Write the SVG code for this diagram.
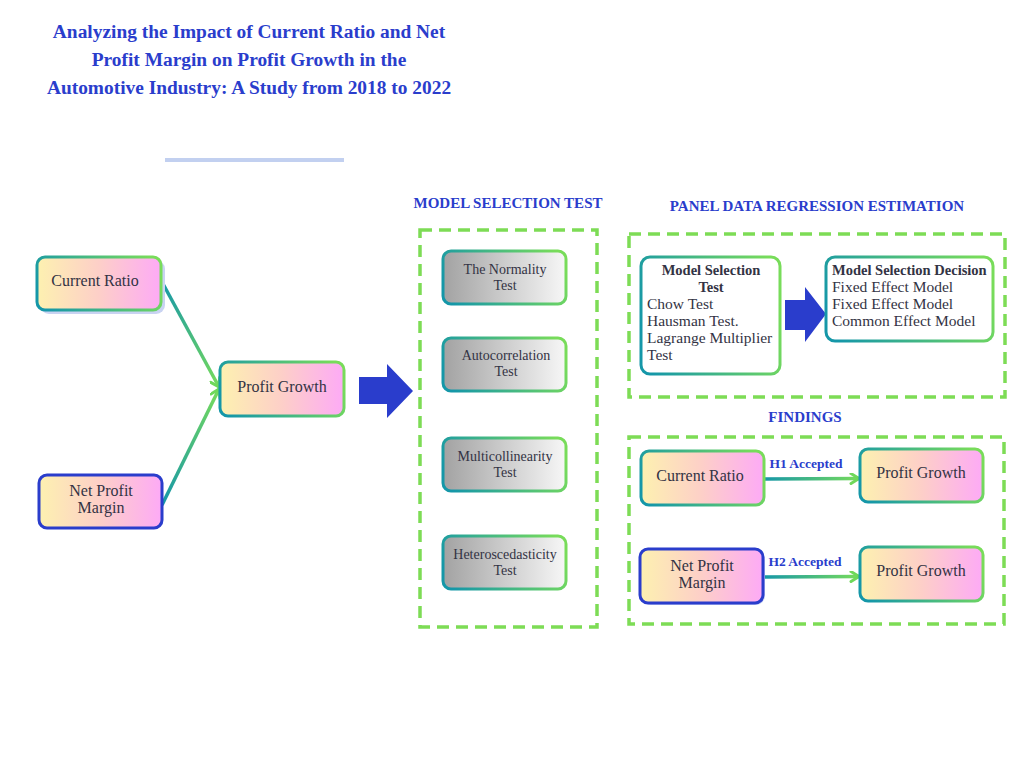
<svg xmlns="http://www.w3.org/2000/svg" width="1024" height="768" viewBox="0 0 1024 768">
<defs>
<linearGradient id="fillWarm" x1="0" y1="0" x2="1" y2="0">
<stop offset="0" stop-color="#fdf1b0"/><stop offset="0.5" stop-color="#fdcfc8"/><stop offset="1" stop-color="#fdaaf6"/>
</linearGradient>
<linearGradient id="fillGray" x1="0" y1="0" x2="1" y2="0">
<stop offset="0" stop-color="#a2a2a2"/><stop offset="1" stop-color="#f7f7f7"/>
</linearGradient>
<linearGradient id="strokeTG" x1="0" y1="0.6" x2="1" y2="0.4">
<stop offset="0" stop-color="#1597a8"/><stop offset="1" stop-color="#78dc5a"/>
</linearGradient>
<linearGradient id="c1" gradientUnits="userSpaceOnUse" x1="162" y1="282" x2="220" y2="388">
<stop offset="0" stop-color="#1597a8"/><stop offset="1" stop-color="#78dc5a"/>
</linearGradient>
<linearGradient id="c2" gradientUnits="userSpaceOnUse" x1="162" y1="505" x2="220" y2="388">
<stop offset="0" stop-color="#1597a8"/><stop offset="1" stop-color="#78dc5a"/>
</linearGradient>
<linearGradient id="c3" gradientUnits="userSpaceOnUse" x1="764" y1="0" x2="860" y2="0">
<stop offset="0" stop-color="#1597a8"/><stop offset="1" stop-color="#78dc5a"/>
</linearGradient>
<linearGradient id="c4" gradientUnits="userSpaceOnUse" x1="763" y1="0" x2="860" y2="0">
<stop offset="0" stop-color="#1597a8"/><stop offset="1" stop-color="#78dc5a"/>
</linearGradient>
<marker id="chev" markerWidth="12" markerHeight="12" viewBox="0 0 12 12" refX="10" refY="6" orient="auto" markerUnits="userSpaceOnUse">
<path d="M2,1 L10,6 L2,11" fill="none" stroke="#6fd85a" stroke-width="3" stroke-linecap="round" stroke-linejoin="round"/>
</marker>
<style>
.title{font-family:"Liberation Serif","Times New Roman",serif;font-weight:bold;font-size:19.4px;fill:#2a3dcc;text-anchor:middle}
.sec{font-family:"Liberation Serif","Times New Roman",serif;font-weight:bold;font-size:15px;fill:#2a3dcc;text-anchor:middle}
.lbl{font-family:"Liberation Serif","Times New Roman",serif;font-size:16px;fill:#333344;text-anchor:middle}
.sm{font-size:14px}
.lblL{font-family:"Liberation Serif","Times New Roman",serif;font-size:15.5px;fill:#333344}
.b{font-weight:bold;font-size:14.5px}
.hl{font-family:"Liberation Serif","Times New Roman",serif;font-weight:bold;font-size:13.5px;fill:#2a3dcc;text-anchor:middle}
.warm{fill:url(#fillWarm);stroke:url(#strokeTG);stroke-width:3}
.warmB{fill:url(#fillWarm);stroke:#2a3dcc;stroke-width:3}
.gray{fill:url(#fillGray);stroke:url(#strokeTG);stroke-width:3}
.white{fill:#ffffff;stroke:url(#strokeTG);stroke-width:3}
.dash{fill:none;stroke:#7ddc55;stroke-width:3.5;stroke-dasharray:12 7}
.shadow{fill:#c9d3f2}
.big{fill:#2a3dcc}
</style>
</defs>
<rect width="1024" height="768" fill="#ffffff"/>

<g id="title">
<text class="title" x="249" y="38">Analyzing the Impact of Current Ratio and Net</text>
<text class="title" x="249" y="66">Profit Margin on Profit Growth in the</text>
<text class="title" x="249" y="94">Automotive Industry: A Study from 2018 to 2022</text>
<rect x="165" y="158" width="179" height="4" fill="#c2d0f0"/>
</g>

<g id="sections">
<text class="sec" x="508" y="208">MODEL SELECTION TEST</text>
<rect class="dash" x="420" y="230" width="177" height="397"/>
<text class="sec" x="817" y="211">PANEL DATA REGRESSION ESTIMATION</text>
<rect class="dash" x="629" y="234" width="376" height="163"/>
<text class="sec" x="805" y="422">FINDINGS</text>
<rect class="dash" x="629" y="437" width="375" height="187"/>
</g>

<g id="connectors">
<line x1="162" y1="282" x2="219" y2="387" stroke="url(#c1)" stroke-width="3.5" marker-end="url(#chev)"/>
<line x1="162" y1="505" x2="219" y2="389" stroke="url(#c2)" stroke-width="3.5" marker-end="url(#chev)"/>
<path d="M764,479 L859,478.5" fill="none" stroke="url(#c3)" stroke-width="3.5" marker-end="url(#chev)"/>
<path d="M763,577 L859,576.5" fill="none" stroke="url(#c4)" stroke-width="3.5" marker-end="url(#chev)"/>
<text class="hl" x="806" y="468">H1 Accepted</text>
<text class="hl" x="805" y="566">H2 Accepted</text>
<polygon class="big" points="359,377 387,377 387,364 413,391 387,418 387,404 359,404"/>
<polygon class="big" points="785,300 805,300 805,287 826,314 805,342 805,330 785,330"/>
</g>

<g id="node-current-ratio">
<rect class="shadow" x="40" y="260" width="125" height="54" rx="9"/>
<rect class="warm" x="37" y="257" width="124" height="53" rx="8"/>
<text class="lbl" x="95" y="286">Current Ratio</text>
</g>
<g id="node-net-profit-margin">
<rect class="warmB" x="39" y="475" width="123" height="53" rx="8"/>
<text class="lbl" x="101" y="496">Net Profit</text>
<text class="lbl" x="101" y="513">Margin</text>
</g>
<g id="node-profit-growth">
<rect class="warm" x="220" y="362" width="124" height="54" rx="8"/>
<text class="lbl" x="282" y="392">Profit Growth</text>
</g>

<g id="node-normality">
<rect class="gray" x="443" y="251" width="123" height="53" rx="8"/>
<text class="lbl sm" x="505" y="274">The Normality</text>
<text class="lbl sm" x="505" y="290">Test</text>
</g>
<g id="node-autocorrelation">
<rect class="gray" x="443" y="338" width="123" height="53" rx="8"/>
<text class="lbl sm" x="506" y="360">Autocorrelation</text>
<text class="lbl sm" x="506" y="376">Test</text>
</g>
<g id="node-multicollinearity">
<rect class="gray" x="443" y="438" width="123" height="53" rx="8"/>
<text class="lbl sm" x="505" y="461">Multicollinearity</text>
<text class="lbl sm" x="505" y="477">Test</text>
</g>
<g id="node-heteroscedasticity">
<rect class="gray" x="443" y="536" width="123" height="53" rx="8"/>
<text class="lbl sm" x="505" y="559">Heteroscedasticity</text>
<text class="lbl sm" x="505" y="575">Test</text>
</g>

<g id="node-model-selection-test">
<rect class="white" x="641" y="257" width="139" height="117" rx="9"/>
<text class="lbl b" x="711" y="275">Model Selection</text>
<text class="lbl b" x="711" y="292">Test</text>
<text class="lblL" x="647" y="309">Chow Test</text>
<text class="lblL" x="647" y="326">Hausman Test.</text>
<text class="lblL" x="647" y="343">Lagrange Multiplier</text>
<text class="lblL" x="647" y="360">Test</text>
</g>
<g id="node-model-selection-decision">
<rect class="white" x="826" y="257" width="167" height="84" rx="9"/>
<text class="lblL b" x="832" y="275">Model Selection Decision</text>
<text class="lblL" x="832" y="292">Fixed Effect Model</text>
<text class="lblL" x="832" y="309">Fixed Effect Model</text>
<text class="lblL" x="832" y="326">Common Effect Model</text>
</g>

<g id="node-f-current-ratio">
<rect class="warm" x="641" y="451" width="123" height="54" rx="8"/>
<text class="lbl" x="700" y="481">Current Ratio</text>
</g>
<g id="node-f-profit-growth-1">
<rect class="warm" x="860" y="449" width="123" height="53" rx="8"/>
<text class="lbl" x="921" y="478">Profit Growth</text>
</g>
<g id="node-f-net-profit-margin">
<rect class="shadow" x="642" y="551" width="123" height="54" rx="9"/>
<rect class="warmB" x="640" y="549" width="123" height="54" rx="8"/>
<text class="lbl" x="702" y="571">Net Profit</text>
<text class="lbl" x="702" y="588">Margin</text>
</g>
<g id="node-f-profit-growth-2">
<rect class="warm" x="860" y="547" width="123" height="54" rx="8"/>
<text class="lbl" x="921" y="576">Profit Growth</text>
</g>
</svg>
